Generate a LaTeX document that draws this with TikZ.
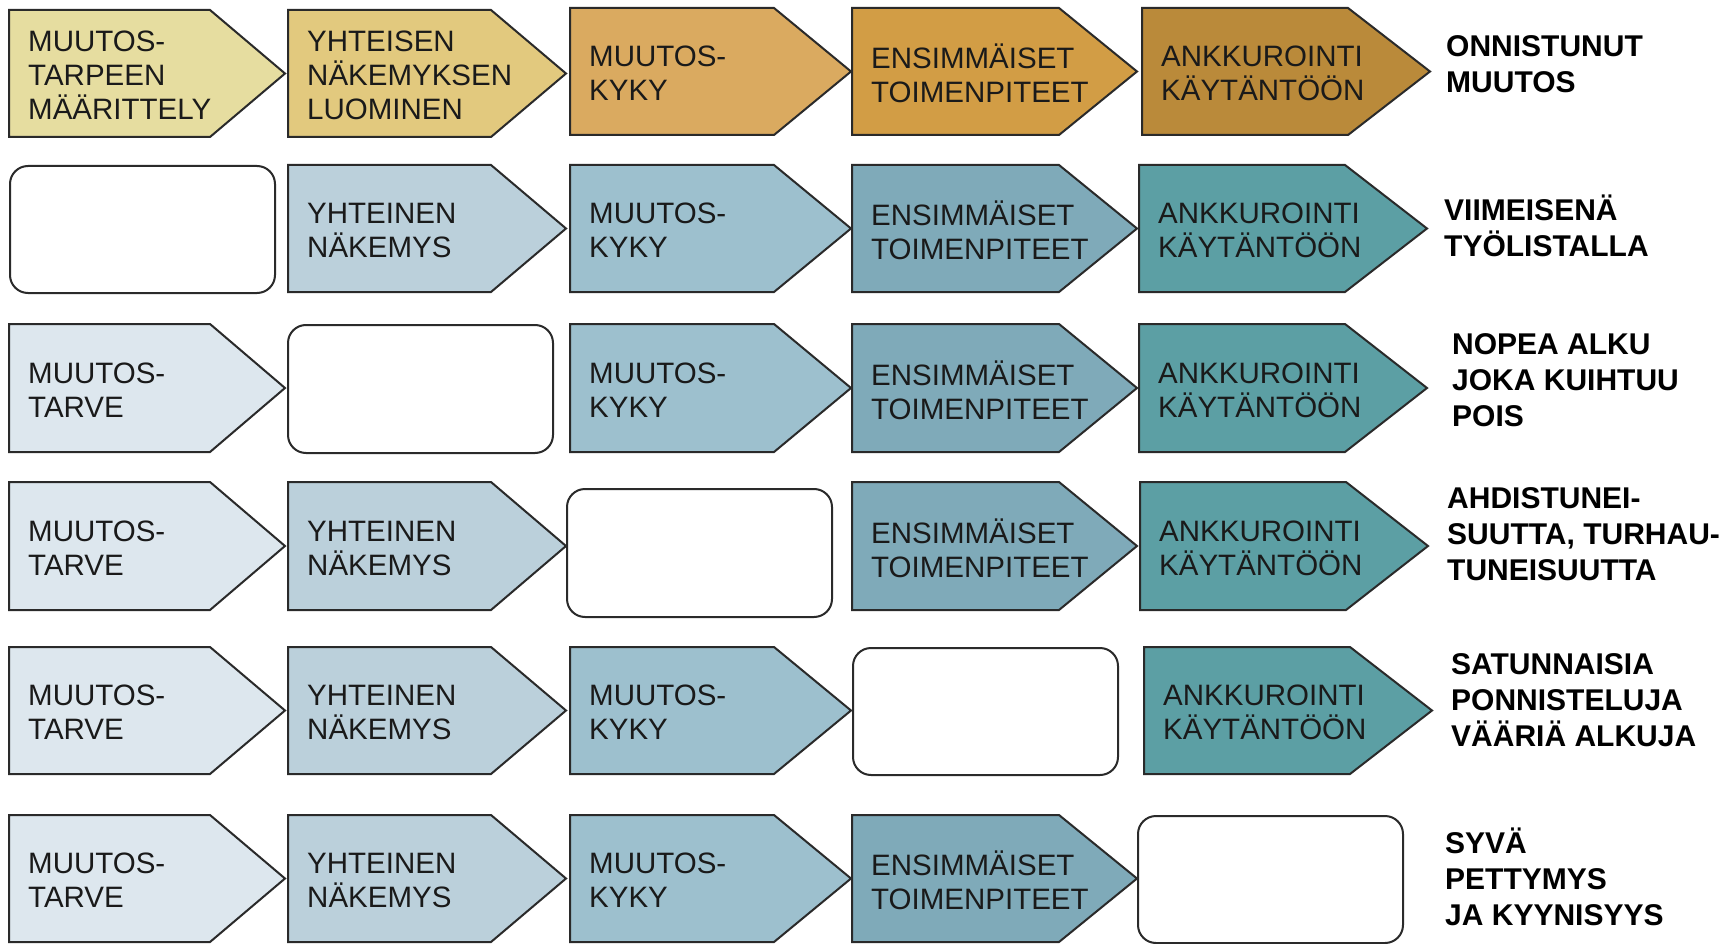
\documentclass[tikz,border=0pt]{standalone}
\usepackage{fontspec}
\setmainfont{Liberation Sans}
\definecolor{yA}{HTML}{E6DDA0}
\definecolor{yB}{HTML}{E2C97E}
\definecolor{yC}{HTML}{DAAA60}
\definecolor{yD}{HTML}{D29D45}
\definecolor{yE}{HTML}{BA8A3A}
\definecolor{bA}{HTML}{DDE7EE}
\definecolor{bB}{HTML}{BBD0DB}
\definecolor{bC}{HTML}{9DC0CE}
\definecolor{bD}{HTML}{7FAAB9}
\definecolor{bE}{HTML}{5C9FA4}
\definecolor{edge}{HTML}{2A2A2A}
\definecolor{ink}{HTML}{1A1A1A}
\tikzset{
  boxline/.style={draw=edge, line width=2pt, line join=miter},
  boxtext/.style={inner sep=0pt, align=left, anchor=west, text=ink,
    font=\fontsize{29.5}{34}\selectfont},
  emptybox/.style={draw=edge, line width=2pt, fill=white, rounded corners=18pt,
    minimum width=265pt, minimum height=127pt, anchor=north west, inner sep=0pt},
  outcome/.style={inner sep=0pt, align=left, anchor=west, text=black,
    font=\bfseries\fontsize{30}{36}\selectfont},
}
% #1 name, #2 left, #3 top, #4 bottom, #5 fill, #6 text, #7 shoulder offset, #8 tip offset
\newcommand{\pentbox}[8]{%
  \draw[boxline, fill=#5] (#2,#3) -- ({#2+#7},#3) -- ({#2+#8},{(#3+#4)/2}) -- ({#2+#7},#4) -- (#2,#4) -- cycle;
  \node[boxtext] (#1) at ({#2+19},{(#3+#4)/2+2}) {#6};
}
\begin{document}
\begin{tikzpicture}[x=1pt,y=-1pt]
\useasboundingbox[fill=white] (0,0) rectangle (1735,944);
% Row 1
\pentbox{a1}{9}{10}{137}{yA}{MUUTOS-\\TARPEEN\\MÄÄRITTELY}{201}{276}
\pentbox{a2}{288}{10}{137}{yB}{YHTEISEN\\NÄKEMYKSEN\\LUOMINEN}{203}{278}
\pentbox{a3}{570}{8}{135}{yC}{MUUTOS-\\KYKY}{204}{281}
\pentbox{a4}{852}{8}{135}{yD}{ENSIMMÄISET\\TOIMENPITEET}{207}{285}
\pentbox{a5}{1142}{8}{135}{yE}{ANKKUROINTI\\KÄYTÄNTÖÖN}{206}{288}
\node[outcome] (o1) at (1446,64) {ONNISTUNUT\\MUUTOS};
% Row 2
\node[emptybox, minimum height=127pt] (b1) at (9,165) {};
\pentbox{b2}{288}{165}{292}{bB}{YHTEINEN\\NÄKEMYS}{203}{278}
\pentbox{b3}{570}{165}{292}{bC}{MUUTOS-\\KYKY}{204}{281}
\pentbox{b4}{852}{165}{292}{bD}{ENSIMMÄISET\\TOIMENPITEET}{207}{285}
\pentbox{b5}{1139}{165}{292}{bE}{ANKKUROINTI\\KÄYTÄNTÖÖN}{206}{288}
\node[outcome] (o2) at (1444,226) {VIIMEISENÄ\\TYÖLISTALLA};
% Row 3
\pentbox{c1}{9}{324}{452}{bA}{MUUTOS-\\TARVE}{201}{276}
\node[emptybox, minimum height=128pt] (c2) at (287,324) {};
\pentbox{c3}{570}{324}{452}{bC}{MUUTOS-\\KYKY}{204}{281}
\pentbox{c4}{852}{324}{452}{bD}{ENSIMMÄISET\\TOIMENPITEET}{207}{285}
\pentbox{c5}{1139}{324}{452}{bE}{ANKKUROINTI\\KÄYTÄNTÖÖN}{206}{288}
\node[outcome] (o3) at (1452,380) {NOPEA ALKU\\JOKA KUIHTUU\\POIS};
% Row 4
\pentbox{d1}{9}{482}{610}{bA}{MUUTOS-\\TARVE}{201}{276}
\pentbox{d2}{288}{482}{610}{bB}{YHTEINEN\\NÄKEMYS}{203}{278}
\node[emptybox, minimum height=128pt] (d3) at (566,488) {};
\pentbox{d4}{852}{482}{610}{bD}{ENSIMMÄISET\\TOIMENPITEET}{207}{285}
\pentbox{d5}{1140}{482}{610}{bE}{ANKKUROINTI\\KÄYTÄNTÖÖN}{206}{288}
\node[outcome] (o4) at (1447,534) {AHDISTUNEI-\\SUUTTA, TURHAU-\\TUNEISUUTTA};
% Row 5
\pentbox{e1}{9}{647}{774}{bA}{MUUTOS-\\TARVE}{201}{276}
\pentbox{e2}{288}{647}{774}{bB}{YHTEINEN\\NÄKEMYS}{203}{278}
\pentbox{e3}{570}{647}{774}{bC}{MUUTOS-\\KYKY}{204}{281}
\node[emptybox, minimum height=127pt] (e4) at (852,647) {};
\pentbox{e5}{1144}{647}{774}{bE}{ANKKUROINTI\\KÄYTÄNTÖÖN}{206}{288}
\node[outcome] (o5) at (1451,700) {SATUNNAISIA\\PONNISTELUJA\\VÄÄRIÄ ALKUJA};
% Row 6
\pentbox{f1}{9}{815}{942}{bA}{MUUTOS-\\TARVE}{201}{276}
\pentbox{f2}{288}{815}{942}{bB}{YHTEINEN\\NÄKEMYS}{203}{278}
\pentbox{f3}{570}{815}{942}{bC}{MUUTOS-\\KYKY}{204}{281}
\pentbox{f4}{852}{815}{942}{bD}{ENSIMMÄISET\\TOIMENPITEET}{207}{285}
\node[emptybox, minimum height=127pt] (f5) at (1137,815) {};
\node[outcome] (o6) at (1445,877) {SYVÄ\\PETTYMYS\\JA KYYNISYYS};
\end{tikzpicture}
\end{document}
